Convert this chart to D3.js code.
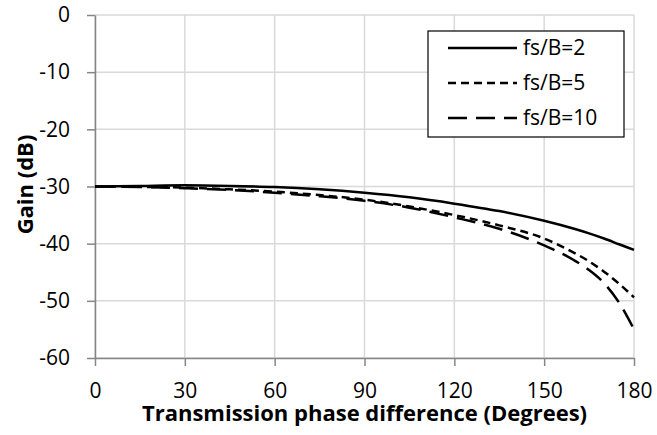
<!DOCTYPE html>
<meta charset="utf-8">
<script src="https://d3js.org/d3.v7.min.js"></script>
<style>
  body { margin: 0; background: #fff; }
  text { font-family: "Open Sans", "Noto Sans", sans-serif; fill: #000; }
</style>
<div id="chart"></div>
<script>

// data
var phase = [0, 15, 30, 45, 60, 75, 90, 105, 120, 135, 150, 160, 165, 170, 175, 180];
var gainFs2  = [-30, -29.9, -29.8, -29.9, -30.1, -30.5, -31.1, -31.9, -33.0, -34.3, -36.0, -37.4, -38.2, -39.1, -40.1, -41.1];
var gainFs5  = [-30, -30.05, -30.2, -30.5, -30.9, -31.5, -32.3, -33.5, -35.0, -36.8, -39.1, -41.6, -43.1, -44.9, -47.0, -49.4];
var gainFs10 = [-30, -30.1, -30.3, -30.6, -31.1, -31.7, -32.5, -33.7, -35.4, -37.4, -40.3, -42.9, -44.6, -46.9, -50.3, -55.0];
var seriesNames = ["fs/B=2", "fs/B=5", "fs/B=10"];
var xTicks = [0, 30, 60, 90, 120, 150, 180];
var yTicks = [0, -10, -20, -30, -40, -50, -60];

var width = 657, height = 435;
var margin = {top: 15, right: 23, bottom: 77, left: 95};

var svg = d3.select("#chart")
  .append("svg")
  .attr("width", width)
  .attr("height", height);

var x = d3.scaleLinear().domain([0, 180]).range([margin.left, width - margin.right]);
var y = d3.scaleLinear().domain([-60, 0]).range([height - margin.bottom, margin.top]);

// grid
svg.append("g")
  .selectAll("line.h")
  .data(yTicks)
  .enter().append("line")
  .attr("x1", x(0)).attr("x2", x(180))
  .attr("y1", d => y(d)).attr("y2", d => y(d))
  .attr("stroke", "#d9d9d9").attr("stroke-width", 1.5);

svg.append("g")
  .selectAll("line.v")
  .data(xTicks)
  .enter().append("line")
  .attr("x1", d => x(d)).attr("x2", d => x(d))
  .attr("y1", y(0)).attr("y2", y(-60))
  .attr("stroke", "#d9d9d9").attr("stroke-width", 1.5);

// axes (plain hyphen for negatives, like the original)
var fmt = d => String(d);
var xAxis = svg.append("g")
  .attr("transform", "translate(0," + y(-60) + ")")
  .call(d3.axisBottom(x).tickValues(xTicks).tickFormat(fmt).tickSizeInner(8).tickSizeOuter(0).tickPadding(17));
var yAxis = svg.append("g")
  .attr("transform", "translate(" + x(0) + ",0)")
  .call(d3.axisLeft(y).tickValues(yTicks).tickFormat(fmt).tickSizeInner(8).tickSizeOuter(0).tickPadding(17));

[xAxis, yAxis].forEach(function(a) {
  a.select(".domain").attr("stroke", "#868686").attr("stroke-width", 1.5);
  a.selectAll(".tick line").attr("stroke", "#868686").attr("stroke-width", 1.5);
  a.selectAll(".tick text").style("font-size", "21px").attr("fill", "#000")
    .style("font-family", "'Open Sans', 'Noto Sans', sans-serif");
});

// curves
var series = [gainFs2, gainFs5, gainFs10];
var dashes = [null, "8,5", "19,9"];

var line = d3.line()
  .x((d, i) => x(phase[i]))
  .y(d => y(d))
  .curve(d3.curveMonotoneX);

series.forEach(function(s, k) {
  svg.append("path")
    .datum(s)
    .attr("d", line)
    .attr("fill", "none")
    .attr("stroke", "#000")
    .attr("stroke-width", 2.5)
    .attr("stroke-dasharray", dashes[k]);
});

// axis titles
svg.append("text")
  .attr("x", (x(0) + x(180)) / 2)
  .attr("y", 421)
  .attr("text-anchor", "middle")
  .style("font-size", "22px")
  .style("font-weight", "bold")
  .text("Transmission phase difference (Degrees)");

svg.append("text")
  .attr("transform", "translate(33," + (y(-30) - 2) + ") rotate(-90)")
  .attr("text-anchor", "middle")
  .style("font-size", "22px")
  .style("font-weight", "bold")
  .text("Gain (dB)");

// legend
var legend = svg.append("g");
legend.append("rect")
  .attr("x", 428).attr("y", 31)
  .attr("width", 196).attr("height", 106)
  .attr("fill", "#fff").attr("stroke", "#000").attr("stroke-width", 1.2);

seriesNames.forEach(function(name, k) {
  var ly = 48 + k * 35;
  legend.append("line")
    .attr("x1", 448).attr("x2", 517)
    .attr("y1", ly).attr("y2", ly)
    .attr("stroke", "#000").attr("stroke-width", 2.5)
    .attr("stroke-dasharray", dashes[k]);
  legend.append("text")
    .attr("x", 523).attr("y", ly)
    .attr("dy", "0.35em")
    .style("font-size", "21px")
    .text(name);
});

</script>
